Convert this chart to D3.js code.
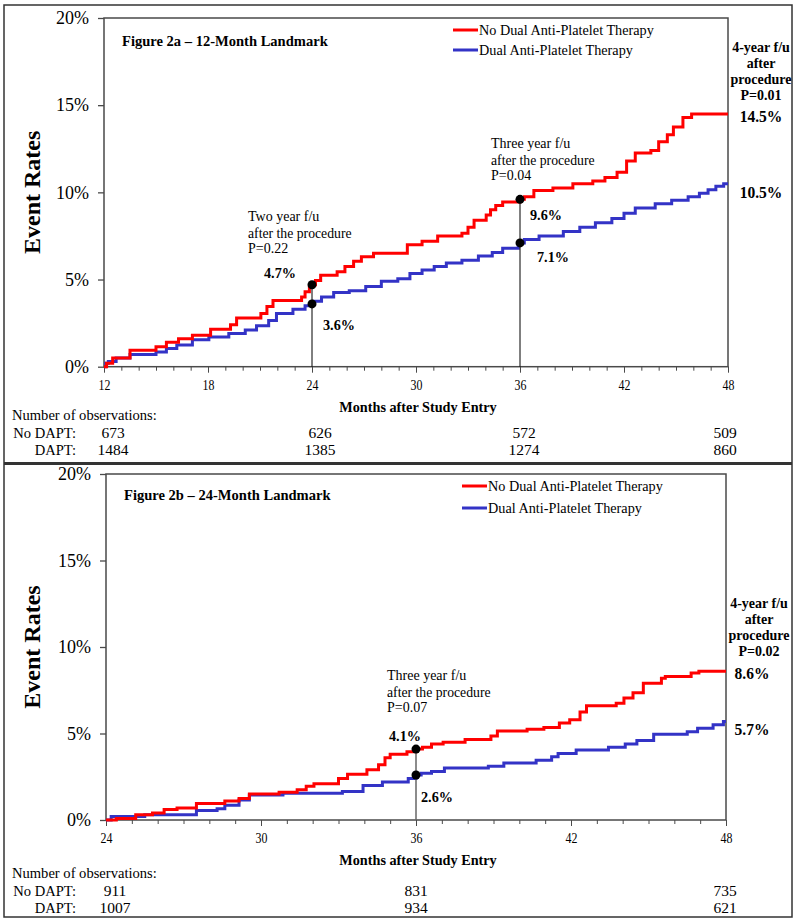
<!DOCTYPE html>
<html><head><meta charset="utf-8">
<script src="https://cdn.jsdelivr.net/npm/d3@7"></script>
<style>
body{margin:0;background:#fff}
svg{display:block}
text{font-family:"Liberation Serif","Times New Roman",serif;fill:#000}
</style>
</head><body>
<svg id="c" width="800" height="923"></svg>
<script>
// ---------- DATA ----------
const seriesNames = ["No Dual Anti-Platelet Therapy", "Dual Anti-Platelet Therapy"];
const yTicks = [0, 5, 10, 15, 20];

// Panel A: 12-month landmark
const aXTicks = [12, 18, 24, 30, 36, 42, 48];
const aNoDaptMonths = [12.0,12.15,12.5,13.5,15.0,15.6,16.3,17.1,18.15,19.3,19.65,21.05,21.4,21.75,23.4,23.6,23.85,24.0,24.2,24.5,25.45,25.9,26.4,26.85,27.55,29.5,30.35,31.25,32.65,33.0,33.35,34.05,34.3,34.6,35.0,36.0,36.25,36.8,37.9,39.05,40.2,40.9,41.6,42.15,42.65,43.55,44.0,44.5,44.85,45.4,45.9,48.0];
const aNoDaptRates  = [0,0.2,0.5,0.95,1.15,1.4,1.6,1.8,2.15,2.4,2.8,3.05,3.45,3.8,4.0,4.3,4.6,4.7,4.95,5.25,5.45,5.75,6.05,6.3,6.5,7.0,7.2,7.5,7.65,8.0,8.4,8.7,9.0,9.25,9.45,9.6,9.75,10.1,10.25,10.5,10.65,10.85,11.15,11.8,12.25,12.4,12.9,13.3,13.75,14.3,14.5,14.5];
const aDaptMonths = [12.0,12.1,12.25,12.7,13.5,15.0,15.6,16.2,17.1,18.05,19.2,20.15,20.8,21.5,21.95,22.9,23.6,24.0,24.1,24.55,25.25,26.15,27.1,28.0,28.95,29.65,30.35,31.05,31.75,32.65,33.6,34.4,35.0,35.9,36.0,36.25,37.1,38.5,39.45,40.35,41.3,42.0,42.65,43.8,44.75,45.7,46.35,46.85,47.3,47.75,48.0];
const aDaptRates  = [0,0.2,0.3,0.5,0.7,0.85,1.05,1.25,1.55,1.7,1.9,2.1,2.35,2.65,3.05,3.3,3.5,3.6,3.75,4.0,4.25,4.35,4.6,4.9,5.05,5.35,5.55,5.75,5.95,6.1,6.35,6.55,6.8,7.0,7.1,7.3,7.5,7.75,8.0,8.25,8.5,8.8,9.1,9.35,9.55,9.75,9.95,10.15,10.35,10.5,10.5];
const aMarkMonths = [24, 36];
const aMarkNoDapt = [4.7, 9.6];
const aMarkDapt   = [3.6, 7.1];
const aMarkTitles = ["Two year f/u", "Three year f/u"];
const aMarkP      = ["P=0.22", "P=0.04"];
const aEndNoDapt = 14.5, aEndDapt = 10.5, aEndP = "P=0.01";
const aObsMonths = [12, 24, 36, 48];
const aObsNoDapt = [673, 626, 572, 509];
const aObsDapt   = [1484, 1385, 1274, 860];

// Panel B: 24-month landmark
const bXTicks = [24, 30, 36, 42, 48];
const bNoDaptMonths = [24.0,24.4,25.15,25.8,26.25,26.75,27.5,28.6,29.15,29.55,30.7,31.4,31.75,32.05,33.0,33.35,34.1,34.55,34.8,35.0,35.65,36.0,36.25,36.6,37.05,37.9,38.9,39.15,40.3,40.95,41.55,41.95,42.35,42.6,43.75,44.05,44.4,44.8,45.5,45.65,46.65,46.95,48.0];
const bNoDaptRates  = [0,0.08,0.3,0.4,0.6,0.7,0.95,1.1,1.25,1.5,1.6,1.75,1.95,2.1,2.4,2.65,2.9,3.2,3.6,3.8,3.95,4.1,4.2,4.4,4.5,4.65,4.85,5.15,5.25,5.35,5.6,5.8,6.25,6.6,6.75,7.05,7.35,7.9,8.2,8.3,8.5,8.6,8.6];
const bDaptMonths = [24.0,24.2,25.5,27.5,28.3,28.6,29.15,29.55,30.85,33.15,33.95,34.7,35.7,36.0,36.2,36.6,37.1,38.8,39.4,40.65,41.25,41.5,42.2,43.45,44.1,44.55,45.2,46.5,46.9,47.5,47.9,48.0];
const bDaptRates  = [0,0.2,0.3,0.55,0.65,0.85,1.15,1.45,1.55,1.65,2.0,2.2,2.4,2.6,2.7,2.8,3.0,3.1,3.3,3.45,3.65,3.85,4.05,4.2,4.4,4.6,4.95,5.1,5.3,5.5,5.7,5.7];
const bMarkMonths = [36];
const bMarkNoDapt = [4.1];
const bMarkDapt   = [2.6];
const bMarkTitles = ["Three year f/u"];
const bMarkP      = ["P=0.07"];
const bEndNoDapt = 8.6, bEndDapt = 5.7, bEndP = "P=0.02";
const bObsMonths = [24, 36, 48];
const bObsNoDapt = [911, 831, 735];
const bObsDapt   = [1007, 934, 621];

// ---------- DRAWING ----------
const svg = d3.select("#c");
const RED = "#ff0000", BLUE = "#3333c6", FRAME = "#4a4a4a";

function T(g, x, y, str, o = {}) {
  return g.append("text")
    .attr("transform", `translate(${x},${y}) scale(${o.sx || 1},1)`)
    .attr("font-size", o.size || 15)
    .attr("font-weight", o.bold ? "bold" : "normal")
    .attr("text-anchor", o.anchor || "start")
    .text(str);
}

// outer frame + separator
svg.append("rect").attr("x", 4).attr("y", 5).attr("width", 788).attr("height", 912)
  .attr("fill", "none").attr("stroke", "#333").attr("stroke-width", 1.5);
svg.append("line").attr("x1", 4).attr("x2", 792).attr("y1", 463.5).attr("y2", 463.5)
  .attr("stroke", "#333").attr("stroke-width", 3);

function panel(c) {
  const g = svg.append("g");
  const x = d3.scaleLinear().domain([c.xTicks[0], c.xTicks[c.xTicks.length - 1]]).range(c.xr);
  const y = d3.scaleLinear().domain([0, 20]).range(c.yr);
  const [x0, x1] = c.xr, [yb, yt] = c.yr;

  // frame
  g.append("rect").attr("x", x0).attr("y", yt).attr("width", x1 - x0).attr("height", yb - yt)
    .attr("fill", "none").attr("stroke", FRAME).attr("stroke-width", 1.5);

  // y axis
  const ya = g.append("g").attr("transform", `translate(${x0},0)`)
    .call(d3.axisLeft(y).tickValues(yTicks).tickFormat(d => d + "%").tickSize(6).tickPadding(9));
  ya.select(".domain").remove();
  ya.selectAll("line").attr("stroke", FRAME).attr("stroke-width", 1.3);
  ya.selectAll("text").attr("font-family", "Liberation Serif, serif").attr("font-size", 18).attr("fill", "#000");

  // x axis minor (monthly) and major ticks
  const months = d3.range(c.xTicks[0], c.xTicks[c.xTicks.length - 1] + 1);
  const xm = g.append("g").attr("transform", `translate(0,${yb})`)
    .call(d3.axisBottom(x).tickValues(months).tickFormat("").tickSize(4));
  xm.select(".domain").remove();
  xm.selectAll("line").attr("stroke", FRAME);
  const xa = g.append("g").attr("transform", `translate(0,${yb})`)
    .call(d3.axisBottom(x).tickValues(c.xTicks).tickSize(6).tickPadding(7));
  xa.select(".domain").remove();
  xa.selectAll("line").attr("stroke", FRAME);
  xa.selectAll("text").attr("font-family", "Liberation Serif, serif").attr("font-size", 14)
    .attr("fill", "#000").attr("transform", "scale(0.85,1)");

  // y label
  g.append("text").attr("transform", `translate(40,${(yb + yt) / 2}) rotate(-90)`)
    .attr("text-anchor", "middle").attr("font-size", 24).attr("font-weight", "bold").text("Event Rates");

  // x label
  T(g, (x0 + x1) / 2 + 2, yb + 45, "Months after Study Entry", { size: 15, bold: true, anchor: "middle", sx: 0.95 });

  // step lines
  const line = d3.line().x(d => x(d[0])).y(d => y(d[1])).curve(d3.curveStepAfter);
  const series = [
    { m: c.noM, r: c.noR, col: RED },
    { m: c.dM, r: c.dR, col: BLUE }
  ];
  [series[1], series[0]].forEach(s => {
    g.append("path").datum(d3.zip(s.m, s.r)).attr("d", line)
      .attr("fill", "none").attr("stroke", s.col).attr("stroke-width", 3);
  });

  // landmark marks
  c.markM.forEach((m, i) => {
    g.append("line").attr("x1", x(m)).attr("x2", x(m)).attr("y1", y(c.markNo[i])).attr("y2", y(0))
      .attr("stroke", c.dropCol).attr("stroke-width", c.dropW);
    [c.markNo[i], c.markD[i]].forEach(v => {
      g.append("circle").attr("cx", x(m)).attr("cy", y(v)).attr("r", 4.5).attr("fill", "#000");
    });
    const L = c.markLayout[i];
    T(g, x(m) + L.tx, L.ty, c.markT[i], { size: 14 });
    T(g, x(m) + L.tx, L.ty + 16.5, "after the procedure", { size: 14, sx: 0.98 });
    T(g, x(m) + L.tx, L.ty + 31.5, c.markP[i], { size: 14 });
    T(g, x(m) + L.nx, y(c.markNo[i]) + L.ny, c.markNo[i].toFixed(1) + "%", { size: 15, bold: true, anchor: "middle", sx: 0.95 });
    T(g, x(m) + L.dx, y(c.markD[i]) + L.dy, c.markD[i].toFixed(1) + "%", { size: 15, bold: true, anchor: "middle", sx: 0.95 });
  });

  // right annotations
  ["4-year f/u", "after", "procedure", c.endP].forEach((s, i) => {
    T(g, c.rightX, c.rightY + i * 16, s, { size: 14, bold: true, anchor: "middle" });
  });
  T(g, c.endX, y(c.endNo) + c.endNoDy, c.endNo.toFixed(1) + "%", { size: 16, bold: true, anchor: "middle", sx: 0.97 });
  T(g, c.endX, y(c.endD) + c.endDDy, c.endD.toFixed(1) + "%", { size: 16, bold: true, anchor: "middle", sx: 0.97 });

  // title
  T(g, x0 + 18, yt + c.titleDy, c.title, { size: 15, bold: true, sx: 0.97 });

  // legend
  series.forEach((s, i) => {
    const ly = c.legY + i * c.legGap;
    g.append("line").attr("x1", c.legX).attr("x2", c.legX + 25).attr("y1", ly).attr("y2", ly)
      .attr("stroke", s.col).attr("stroke-width", 3);
    T(g, c.legX + 26, ly + 5, seriesNames[i], { size: 15, sx: 0.95 });
  });

  // observations table
  T(g, 12, c.tblY, "Number of observations:", { size: 15.5, sx: 0.94 });
  T(g, 76, c.tblY + 18, "No DAPT:", { size: 15.5, sx: 0.94, anchor: "end" });
  T(g, 76, c.tblY + 35, "DAPT:", { size: 15.5, sx: 0.94, anchor: "end" });
  c.obsM.forEach((m, i) => {
    T(g, x(m) + c.obsOff[i], c.tblY + 18, String(c.obsNo[i]), { size: 15.5, anchor: "middle" });
    T(g, x(m) + c.obsOff[i], c.tblY + 35, String(c.obsD[i]), { size: 15.5, anchor: "middle" });
  });
}

panel({
  xTicks: aXTicks, xr: [104, 728], yr: [366.7, 18],
  noM: aNoDaptMonths, noR: aNoDaptRates, dM: aDaptMonths, dR: aDaptRates,
  markM: aMarkMonths, markNo: aMarkNoDapt, markD: aMarkDapt, markT: aMarkTitles, markP: aMarkP,
  markLayout: [
    { tx: -64, ty: 221, nx: -32, ny: -7, dx: 27, dy: 26 },
    { tx: -29, ty: 148, nx: 26, ny: 21, dx: 33, dy: 19 }
  ],
  dropCol: "#000", dropW: 1,
  rightX: 761, rightY: 52, endX: 761, endNo: aEndNoDapt, endD: aEndDapt, endNoDy: 8, endDDy: 14, endP: aEndP,
  title: "Figure 2a \u2013 12-Month Landmark", titleDy: 28,
  legX: 453, legY: 30, legGap: 20,
  tblY: 420, obsM: aObsMonths, obsNo: aObsNoDapt, obsD: aObsDapt, obsOff: [9, 8, 4, -3]
});

panel({
  xTicks: bXTicks, xr: [106, 726], yr: [820, 474],
  noM: bNoDaptMonths, noR: bNoDaptRates, dM: bDaptMonths, dR: bDaptRates,
  markM: bMarkMonths, markNo: bMarkNoDapt, markD: bMarkDapt, markT: bMarkTitles, markP: bMarkP,
  markLayout: [
    { tx: -29, ty: 680, nx: -11, ny: -8, dx: 21, dy: 27 }
  ],
  dropCol: "#666", dropW: 1.5,
  rightX: 759, rightY: 608, endX: 752, endNo: bEndNoDapt, endD: bEndDapt, endNoDy: 8, endDDy: 14, endP: bEndP,
  title: "Figure 2b \u2013 24-Month Landmark", titleDy: 26,
  legX: 462, legY: 486, legGap: 22,
  tblY: 878, obsM: bObsMonths, obsNo: bObsNoDapt, obsD: bObsDapt, obsOff: [9, 0, -1]
});
</script>
</body></html>
